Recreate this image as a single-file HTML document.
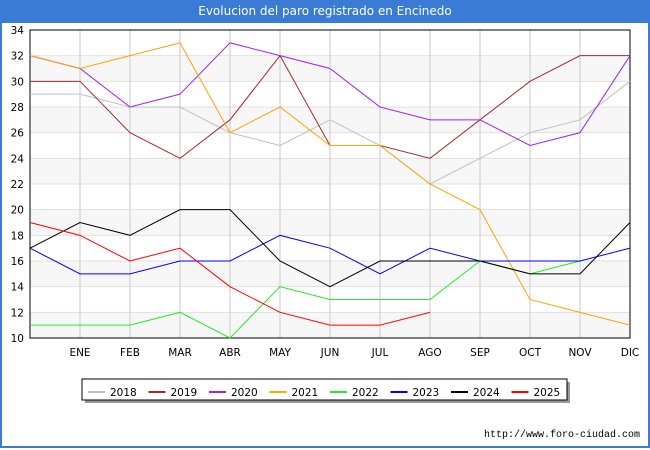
<!DOCTYPE html>
<html><head><meta charset="utf-8"><style>
body{margin:0;width:650px;height:450px;background:#fff;font-family:"DejaVu Sans","Liberation Sans",sans-serif;overflow:hidden}
#frame{position:absolute;left:0;top:0;width:646px;height:446px;border:2px solid #3a7bd5;border-top:none}
#title{position:absolute;left:0;top:0;width:650px;height:23px;background:#3a7bd5;color:#fff;font-size:12px;text-align:center;line-height:23px}
svg text{font-family:"DejaVu Sans","Liberation Sans",sans-serif}
</style></head><body>
<div id="frame"></div>
<div id="title">Evolucion del paro registrado en Encinedo</div>
<svg id="chart" width="650" height="450" style="position:absolute;left:0;top:0"></svg>
<script>
const months=["","ENE","FEB","MAR","ABR","MAY","JUN","JUL","AGO","SEP","OCT","NOV","DIC"];
const yTicks=[10,12,14,16,18,20,22,24,26,28,30,32,34];
const seriesNames=["2018","2019","2020","2021","2022","2023","2024","2025"];
const seriesColors=["#c0c0c0","#a52a2a","#a020f0","#ffa500","#22ee22","#0000ff","#000000","#ff0000"];
const s2018=[29,29,28,28,26,25,27,25,22,24,26,27,30];
const s2019=[30,30,26,24,27,32,25,25,24,27,30,32,32];
const s2020=[32,31,28,29,33,32,31,28,27,27,25,26,32];
const s2021=[32,31,32,33,26,28,25,25,22,20,13,12,11];
const s2022=[11,11,11,12,10,14,13,13,13,16,15,16];
const s2023=[17,15,15,16,16,18,17,15,17,16,16,16,17];
const s2024=[17,19,18,20,20,16,14,16,16,16,15,15,19];
const s2025=[19,18,16,17,14,12,11,11,12];
const allSeries=[s2018,s2019,s2020,s2021,s2022,s2023,s2024,s2025];
const NS="http://www.w3.org/2000/svg";
const svg=document.getElementById('chart');
const L=30,R=630,T=30,B=338,yMin=10,yMax=34;
const xs=i=>L+i*(R-L)/(months.length-1);
const ys=v=>B-(v-yMin)*(B-T)/(yMax-yMin);
function mk(tag,attrs,parent){const e=document.createElementNS(NS,tag);for(const k in attrs)e.setAttribute(k,attrs[k]);(parent||svg).appendChild(e);return e;}
for(let i=0;i<yTicks.length-1;i++){
  if(i%2===0){const b=mk('rect',{x:L,y:ys(yTicks[i+1]),width:R-L,height:ys(yTicks[i])-ys(yTicks[i+1]),fill:'#f7f7f7'});
  
  }
}
yTicks.forEach(v=>{
  const g=mk('line',{x1:L,x2:R,y1:ys(v),y2:ys(v),stroke:'#e0e0e0','stroke-width':1});
  
  
  const t=mk('text',{x:L-6,y:ys(v)+4,'text-anchor':'end','font-size':10.5,fill:'#000'});
  t.textContent=v;
  
  
});
months.forEach((m,i)=>{
  if(i===0)return;
  const g=mk('line',{x1:xs(i),x2:xs(i),y1:T,y2:B,stroke:'#c8c8c8','stroke-width':1});
  
  
  const t=mk('text',{x:xs(i),y:B+18,'text-anchor':'middle','font-size':10.5,fill:'#000'});
  t.textContent=m;
  
  
});
const box=mk('rect',{x:L,y:T,width:R-L,height:B-T,fill:'none',stroke:'#000','stroke-width':1});


allSeries.forEach((s,k)=>{
  const p=mk('polyline',{points:s.map((v,i)=>xs(i)+','+ys(v)).join(' '),fill:'none',stroke:seriesColors[k],'stroke-width':1});
  
  
});
const lg=mk('rect',{x:85,y:382,width:485,height:21,fill:'#999'});


const lb=mk('rect',{x:82,y:379,width:485,height:21,fill:'#fff',stroke:'#000','stroke-width':1});


seriesNames.forEach((n,k)=>{
  const x0=88+k*60.5;
  const l=mk('line',{x1:x0,x2:x0+17,y1:392,y2:392,stroke:seriesColors[k],'stroke-width':2});
  
  
  const t=mk('text',{x:x0+22,y:396,'font-size':10.5,fill:'#000'});
  t.textContent=n;
  
  
});
const u=mk('text',{x:640,y:437,'text-anchor':'end','font-size':10,fill:'#000','font-family':'Liberation Mono, monospace'});
u.setAttribute('style','font-family:"Liberation Mono",monospace');
u.textContent='http://www.foro-ciudad.com';


</script>
</body></html>
